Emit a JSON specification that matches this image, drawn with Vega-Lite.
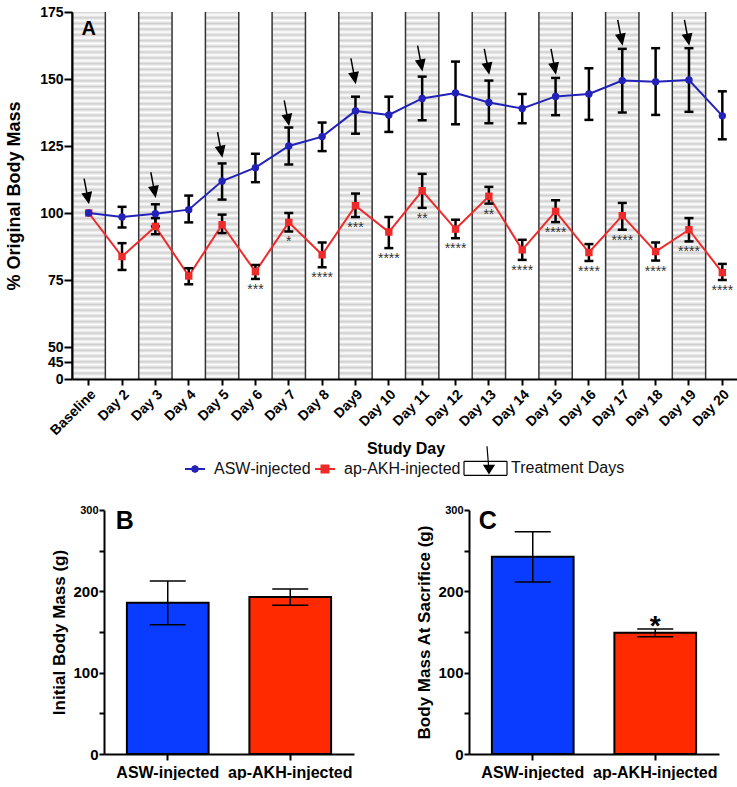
{
  "$schema": "https://vega.github.io/schema/vega-lite/v6.json",
  "padding": {"left": 5, "top": 5, "right": 0, "bottom": 0},
  "background": "white",
  "config": {
    "font": "Liberation Sans",
    "view": {"stroke": null},
    "axis": {"domainColor": "#000000", "domainWidth": 2, "tickColor": "#000000", "tickWidth": 2, "labelColor": "#000000", "titleColor": "#000000", "labelFontWeight": "bold", "titleFontWeight": "bold", "grid": false, "labelFont": "Liberation Sans", "titleFont": "Liberation Sans"}
  },
  "datasets": {
    "mass": [
      {"day": "Baseline", "series": "ap-AKH-injected", "mean": 100, "lo": 100, "hi": 100},
      {"day": "Day 2", "series": "ap-AKH-injected", "mean": 83.75, "lo": 78.75, "hi": 88.75},
      {"day": "Day 3", "series": "ap-AKH-injected", "mean": 95, "lo": 92.1, "hi": 98.1},
      {"day": "Day 4", "series": "ap-AKH-injected", "mean": 76.5, "lo": 73.4, "hi": 79.4},
      {"day": "Day 5", "series": "ap-AKH-injected", "mean": 95.6, "lo": 92.5, "hi": 99.4},
      {"day": "Day 6", "series": "ap-AKH-injected", "mean": 78.1, "lo": 75.4, "hi": 80.6, "sig": "***"},
      {"day": "Day 7", "series": "ap-AKH-injected", "mean": 96.5, "lo": 93.1, "hi": 100, "sig": "*"},
      {"day": "Day 8", "series": "ap-AKH-injected", "mean": 84.4, "lo": 79.75, "hi": 89, "sig": "****"},
      {"day": "Day9", "series": "ap-AKH-injected", "mean": 102.75, "lo": 98.5, "hi": 107.25, "sig": "***"},
      {"day": "Day 10", "series": "ap-AKH-injected", "mean": 92.9, "lo": 86.9, "hi": 98.5, "sig": "****"},
      {"day": "Day 11", "series": "ap-AKH-injected", "mean": 108.3, "lo": 101.9, "hi": 114.6, "sig": "**"},
      {"day": "Day 12", "series": "ap-AKH-injected", "mean": 94, "lo": 90.6, "hi": 97.5, "sig": "****"},
      {"day": "Day 13", "series": "ap-AKH-injected", "mean": 106.25, "lo": 103.5, "hi": 109.75, "sig": "**"},
      {"day": "Day 14", "series": "ap-AKH-injected", "mean": 86.25, "lo": 82.5, "hi": 90, "sig": "****"},
      {"day": "Day 15", "series": "ap-AKH-injected", "mean": 100.6, "lo": 96.6, "hi": 104.75, "sig": "****"},
      {"day": "Day 16", "series": "ap-AKH-injected", "mean": 85.25, "lo": 82.1, "hi": 88.4, "sig": "****"},
      {"day": "Day 17", "series": "ap-AKH-injected", "mean": 99, "lo": 93.75, "hi": 103.75, "sig": "****"},
      {"day": "Day 18", "series": "ap-AKH-injected", "mean": 85.6, "lo": 82.25, "hi": 89, "sig": "****"},
      {"day": "Day 19", "series": "ap-AKH-injected", "mean": 93.75, "lo": 89.4, "hi": 98.1, "sig": "****"},
      {"day": "Day 20", "series": "ap-AKH-injected", "mean": 77.75, "lo": 75, "hi": 81, "sig": "****"},
      {"day": "Baseline", "series": "ASW-injected", "mean": 100, "lo": 100, "hi": 100},
      {"day": "Day 2", "series": "ASW-injected", "mean": 98.5, "lo": 94.6, "hi": 102.3},
      {"day": "Day 3", "series": "ASW-injected", "mean": 99.75, "lo": 95, "hi": 103.25},
      {"day": "Day 4", "series": "ASW-injected", "mean": 101.25, "lo": 96.5, "hi": 106.5},
      {"day": "Day 5", "series": "ASW-injected", "mean": 111.9, "lo": 105, "hi": 118.5},
      {"day": "Day 6", "series": "ASW-injected", "mean": 116.9, "lo": 111.5, "hi": 122.1},
      {"day": "Day 7", "series": "ASW-injected", "mean": 125, "lo": 118.1, "hi": 131.9},
      {"day": "Day 8", "series": "ASW-injected", "mean": 128.5, "lo": 123.1, "hi": 133.75},
      {"day": "Day9", "series": "ASW-injected", "mean": 138.1, "lo": 129.6, "hi": 143.4},
      {"day": "Day 10", "series": "ASW-injected", "mean": 136.6, "lo": 130.25, "hi": 143.4},
      {"day": "Day 11", "series": "ASW-injected", "mean": 142.75, "lo": 134.6, "hi": 150.9},
      {"day": "Day 12", "series": "ASW-injected", "mean": 144.75, "lo": 133.1, "hi": 156.5},
      {"day": "Day 13", "series": "ASW-injected", "mean": 141.25, "lo": 133.5, "hi": 149.4},
      {"day": "Day 14", "series": "ASW-injected", "mean": 139, "lo": 133.5, "hi": 144.4},
      {"day": "Day 15", "series": "ASW-injected", "mean": 143.5, "lo": 136.5, "hi": 150.4},
      {"day": "Day 16", "series": "ASW-injected", "mean": 144.4, "lo": 134.75, "hi": 154},
      {"day": "Day 17", "series": "ASW-injected", "mean": 149.4, "lo": 137.5, "hi": 161.25},
      {"day": "Day 18", "series": "ASW-injected", "mean": 149, "lo": 136.6, "hi": 161.5},
      {"day": "Day 19", "series": "ASW-injected", "mean": 149.6, "lo": 137.75, "hi": 161.5},
      {"day": "Day 20", "series": "ASW-injected", "mean": 136.25, "lo": 127.5, "hi": 145.4}
    ],
    "treat": [
      {"day": "Baseline", "tip": 103.9},
      {"day": "Day 3", "tip": 106.25},
      {"day": "Day 5", "tip": 121.25},
      {"day": "Day 7", "tip": 133.1},
      {"day": "Day9", "tip": 148.75},
      {"day": "Day 11", "tip": 153.5},
      {"day": "Day 13", "tip": 152.25},
      {"day": "Day 15", "tip": 152.25},
      {"day": "Day 17", "tip": 163.1},
      {"day": "Day 19", "tip": 163.1}
    ]
  },
  "spacing": 26,
  "resolve": {"scale": {"x": "independent", "y": "independent", "color": "independent", "shape": "independent"}, "legend": {"color": "independent", "shape": "independent"}},
  "vconcat": [
    {
      "width": 667,
      "height": 367,
      "encoding": {
        "x": {
          "field": "day", "type": "nominal",
          "scale": {"type": "band", "domain": ["Baseline", "Day 2", "Day 3", "Day 4", "Day 5", "Day 6", "Day 7", "Day 8", "Day9", "Day 10", "Day 11", "Day 12", "Day 13", "Day 14", "Day 15", "Day 16", "Day 17", "Day 18", "Day 19", "Day 20"], "paddingInner": 0, "paddingOuter": 0},
          "axis": {"title": "Study Day", "labelAngle": -45, "labelFontSize": 14, "titleFontSize": 16, "tickSize": 6, "labelPadding": 2, "titlePadding": 3, "labelOverlap": false}
        }
      },
      "layer": [
        {
          "data": {"name": "treat"},
          "mark": {"type": "rect", "fill": {"gradient": "linear", "x1": 0, "y1": 0, "x2": 0, "y2": 1, "stops": [
            {"offset": 0, "color": "#cfcfcf"}, {"offset": 0.0078125, "color": "#ffffff"},
            {"offset": 0.015625, "color": "#cfcfcf"}, {"offset": 0.0234375, "color": "#ffffff"},
            {"offset": 0.03125, "color": "#cfcfcf"}, {"offset": 0.0390625, "color": "#ffffff"},
            {"offset": 0.046875, "color": "#cfcfcf"}, {"offset": 0.0546875, "color": "#ffffff"},
            {"offset": 0.0625, "color": "#cfcfcf"}, {"offset": 0.0703125, "color": "#ffffff"},
            {"offset": 0.078125, "color": "#cfcfcf"}, {"offset": 0.0859375, "color": "#ffffff"},
            {"offset": 0.09375, "color": "#cfcfcf"}, {"offset": 0.1015625, "color": "#ffffff"},
            {"offset": 0.109375, "color": "#cfcfcf"}, {"offset": 0.1171875, "color": "#ffffff"},
            {"offset": 0.125, "color": "#cfcfcf"}, {"offset": 0.1328125, "color": "#ffffff"},
            {"offset": 0.140625, "color": "#cfcfcf"}, {"offset": 0.1484375, "color": "#ffffff"},
            {"offset": 0.15625, "color": "#cfcfcf"}, {"offset": 0.1640625, "color": "#ffffff"},
            {"offset": 0.171875, "color": "#cfcfcf"}, {"offset": 0.1796875, "color": "#ffffff"},
            {"offset": 0.1875, "color": "#cfcfcf"}, {"offset": 0.1953125, "color": "#ffffff"},
            {"offset": 0.203125, "color": "#cfcfcf"}, {"offset": 0.2109375, "color": "#ffffff"},
            {"offset": 0.21875, "color": "#cfcfcf"}, {"offset": 0.2265625, "color": "#ffffff"},
            {"offset": 0.234375, "color": "#cfcfcf"}, {"offset": 0.2421875, "color": "#ffffff"},
            {"offset": 0.25, "color": "#cfcfcf"}, {"offset": 0.2578125, "color": "#ffffff"},
            {"offset": 0.265625, "color": "#cfcfcf"}, {"offset": 0.2734375, "color": "#ffffff"},
            {"offset": 0.28125, "color": "#cfcfcf"}, {"offset": 0.2890625, "color": "#ffffff"},
            {"offset": 0.296875, "color": "#cfcfcf"}, {"offset": 0.3046875, "color": "#ffffff"},
            {"offset": 0.3125, "color": "#cfcfcf"}, {"offset": 0.3203125, "color": "#ffffff"},
            {"offset": 0.328125, "color": "#cfcfcf"}, {"offset": 0.3359375, "color": "#ffffff"},
            {"offset": 0.34375, "color": "#cfcfcf"}, {"offset": 0.3515625, "color": "#ffffff"},
            {"offset": 0.359375, "color": "#cfcfcf"}, {"offset": 0.3671875, "color": "#ffffff"},
            {"offset": 0.375, "color": "#cfcfcf"}, {"offset": 0.3828125, "color": "#ffffff"},
            {"offset": 0.390625, "color": "#cfcfcf"}, {"offset": 0.3984375, "color": "#ffffff"},
            {"offset": 0.40625, "color": "#cfcfcf"}, {"offset": 0.4140625, "color": "#ffffff"},
            {"offset": 0.421875, "color": "#cfcfcf"}, {"offset": 0.4296875, "color": "#ffffff"},
            {"offset": 0.4375, "color": "#cfcfcf"}, {"offset": 0.4453125, "color": "#ffffff"},
            {"offset": 0.453125, "color": "#cfcfcf"}, {"offset": 0.4609375, "color": "#ffffff"},
            {"offset": 0.46875, "color": "#cfcfcf"}, {"offset": 0.4765625, "color": "#ffffff"},
            {"offset": 0.484375, "color": "#cfcfcf"}, {"offset": 0.4921875, "color": "#ffffff"},
            {"offset": 0.5, "color": "#cfcfcf"}, {"offset": 0.5078125, "color": "#ffffff"},
            {"offset": 0.515625, "color": "#cfcfcf"}, {"offset": 0.5234375, "color": "#ffffff"},
            {"offset": 0.53125, "color": "#cfcfcf"}, {"offset": 0.5390625, "color": "#ffffff"},
            {"offset": 0.546875, "color": "#cfcfcf"}, {"offset": 0.5546875, "color": "#ffffff"},
            {"offset": 0.5625, "color": "#cfcfcf"}, {"offset": 0.5703125, "color": "#ffffff"},
            {"offset": 0.578125, "color": "#cfcfcf"}, {"offset": 0.5859375, "color": "#ffffff"},
            {"offset": 0.59375, "color": "#cfcfcf"}, {"offset": 0.6015625, "color": "#ffffff"},
            {"offset": 0.609375, "color": "#cfcfcf"}, {"offset": 0.6171875, "color": "#ffffff"},
            {"offset": 0.625, "color": "#cfcfcf"}, {"offset": 0.6328125, "color": "#ffffff"},
            {"offset": 0.640625, "color": "#cfcfcf"}, {"offset": 0.6484375, "color": "#ffffff"},
            {"offset": 0.65625, "color": "#cfcfcf"}, {"offset": 0.6640625, "color": "#ffffff"},
            {"offset": 0.671875, "color": "#cfcfcf"}, {"offset": 0.6796875, "color": "#ffffff"},
            {"offset": 0.6875, "color": "#cfcfcf"}, {"offset": 0.6953125, "color": "#ffffff"},
            {"offset": 0.703125, "color": "#cfcfcf"}, {"offset": 0.7109375, "color": "#ffffff"},
            {"offset": 0.71875, "color": "#cfcfcf"}, {"offset": 0.7265625, "color": "#ffffff"},
            {"offset": 0.734375, "color": "#cfcfcf"}, {"offset": 0.7421875, "color": "#ffffff"},
            {"offset": 0.75, "color": "#cfcfcf"}, {"offset": 0.7578125, "color": "#ffffff"},
            {"offset": 0.765625, "color": "#cfcfcf"}, {"offset": 0.7734375, "color": "#ffffff"},
            {"offset": 0.78125, "color": "#cfcfcf"}, {"offset": 0.7890625, "color": "#ffffff"},
            {"offset": 0.796875, "color": "#cfcfcf"}, {"offset": 0.8046875, "color": "#ffffff"},
            {"offset": 0.8125, "color": "#cfcfcf"}, {"offset": 0.8203125, "color": "#ffffff"},
            {"offset": 0.828125, "color": "#cfcfcf"}, {"offset": 0.8359375, "color": "#ffffff"},
            {"offset": 0.84375, "color": "#cfcfcf"}, {"offset": 0.8515625, "color": "#ffffff"},
            {"offset": 0.859375, "color": "#cfcfcf"}, {"offset": 0.8671875, "color": "#ffffff"},
            {"offset": 0.875, "color": "#cfcfcf"}, {"offset": 0.8828125, "color": "#ffffff"},
            {"offset": 0.890625, "color": "#cfcfcf"}, {"offset": 0.8984375, "color": "#ffffff"},
            {"offset": 0.90625, "color": "#cfcfcf"}, {"offset": 0.9140625, "color": "#ffffff"},
            {"offset": 0.921875, "color": "#cfcfcf"}, {"offset": 0.9296875, "color": "#ffffff"},
            {"offset": 0.9375, "color": "#cfcfcf"}, {"offset": 0.9453125, "color": "#ffffff"},
            {"offset": 0.953125, "color": "#cfcfcf"}, {"offset": 0.9609375, "color": "#ffffff"},
            {"offset": 0.96875, "color": "#cfcfcf"}, {"offset": 0.9765625, "color": "#ffffff"},
            {"offset": 0.984375, "color": "#cfcfcf"}, {"offset": 0.9921875, "color": "#ffffff"},
            {"offset": 1, "color": "#cfcfcf"}
          ]}},
          "encoding": {
            "y": {"datum": 0, "type": "quantitative",
              "scale": {"domain": [0, 45, 50, 175], "range": [367, 350, 335, 0], "nice": false, "zero": false},
              "axis": {"title": "% Original Body Mass", "values": [0, 45, 50, 75, 100, 125, 150, 175], "labelFontSize": 14, "titleFontSize": 18, "tickSize": 8, "labelPadding": 1, "titlePadding": 16, "zindex": 1}},
            "y2": {"datum": 175}
          }
        },
        {
          "data": {"name": "treat"},
          "mark": {"type": "rule", "color": "#333333", "strokeWidth": 1.5},
          "encoding": {
            "x": {"field": "day", "type": "nominal", "bandPosition": 0},
            "y": {"datum": 0, "type": "quantitative"},
            "y2": {"datum": 175}
          }
        },
        {
          "data": {"name": "treat"},
          "mark": {"type": "rule", "color": "#333333", "strokeWidth": 1.5},
          "encoding": {
            "x": {"field": "day", "type": "nominal", "bandPosition": 1},
            "y": {"datum": 0, "type": "quantitative"},
            "y2": {"datum": 175}
          }
        },
        {
          "data": {"name": "mass"},
          "mark": {"type": "line", "strokeWidth": 2},
          "encoding": {
            "y": {"field": "mean", "type": "quantitative"},
            "color": {
              "field": "series", "type": "nominal",
              "scale": {"domain": ["ASW-injected", "ap-AKH-injected", "Treatment Days"], "range": ["#2222b8", "#ee2b2b", "#000000"]},
              "legend": {
                "title": null, "orient": "none", "legendX": 115, "legendY": 448, "direction": "horizontal",
                "labelFont": "Liberation Sans", "labelFontSize": 16, "labelColor": "#111111",
                "symbolSize": 400, "labelOffset": 11, "columnPadding": 0,
                "encode": {
                  "symbols": {"update": {
                    "shape": {"signal": "datum.value === 'ASW-injected' ? 'M-1,0L1,0M-0.3,0L-0.21,-0.21L0,-0.3L0.21,-0.21L0.3,0L0.21,0.21L0,0.3L-0.21,0.21Z' : datum.value === 'ap-AKH-injected' ? 'M-1,0L1,0M-0.35,-0.35L0.35,-0.35L0.35,0.35L-0.35,0.35Z' : 'M-1,-0.7L3.3,-0.7M3.3,-0.7L3.3,0.7M3.3,0.7L-1,0.7M-1,0.7L-1,-0.7M1.3,-2.2L1.45,-0.3M1,-0.3L2,-0.3L1.5,0.5Z'"},
                    "strokeWidth": {"signal": "datum.value === 'Treatment Days' ? 1.2 : 2"},
                    "opacity": {"value": 1},
                    "fillOpacity": {"value": 1}
                  }},
                  "labels": {"update": {"dx": {"signal": "datum.value === 'Treatment Days' ? 18 : 0"}}}
                }
              }
            }
          }
        },
        {
          "data": {"name": "mass"},
          "mark": {"type": "rule", "color": "#000000", "strokeWidth": 2.5},
          "encoding": {
            "y": {"field": "lo", "type": "quantitative"},
            "y2": {"field": "hi"}
          }
        },
        {
          "data": {"name": "mass"},
          "transform": [{"filter": "datum.hi > datum.lo"}],
          "mark": {"type": "tick", "color": "#000000", "thickness": 2.5, "size": 9, "opacity": 1},
          "encoding": {"y": {"field": "hi", "type": "quantitative"}}
        },
        {
          "data": {"name": "mass"},
          "transform": [{"filter": "datum.hi > datum.lo"}],
          "mark": {"type": "tick", "color": "#000000", "thickness": 2.5, "size": 9, "opacity": 1},
          "encoding": {"y": {"field": "lo", "type": "quantitative"}}
        },
        {
          "data": {"name": "mass"},
          "mark": {"type": "point", "filled": true, "opacity": 1, "size": 55},
          "encoding": {
            "y": {"field": "mean", "type": "quantitative"},
            "color": {"field": "series", "type": "nominal"},
            "shape": {"field": "series", "type": "nominal", "scale": {"domain": ["ASW-injected", "ap-AKH-injected"], "range": ["circle", "square"]}, "legend": null}
          }
        },
        {
          "data": {"name": "mass"},
          "transform": [{"filter": "datum.sig"}],
          "mark": {"type": "text", "fontSize": 14, "color": "#333333", "baseline": "alphabetic", "align": "center", "dy": 15},
          "encoding": {
            "y": {"field": "lo", "type": "quantitative"},
            "text": {"field": "sig"}
          }
        },
        {
          "data": {"name": "treat"},
          "mark": {"type": "point", "shape": "M-0.38,-2L-0.15,-0.79M0,0L0.204,-0.853L-0.504,-0.719Z", "size": 576, "filled": true, "fill": "#000000", "stroke": "#000000", "strokeWidth": 1.5, "opacity": 1},
          "encoding": {
            "y": {"field": "tip", "type": "quantitative"}
          }
        },
        {
          "data": {"values": [{}]},
          "mark": {"type": "text", "text": "A", "fontSize": 20, "fontWeight": "bold", "align": "center", "baseline": "top", "dy": 7, "color": "#000000"},
          "encoding": {
            "x": {"datum": "Baseline"},
            "y": {"datum": 175, "type": "quantitative"}
          }
        }
      ]
    },
    {
      "spacing": 61,
      "resolve": {"scale": {"x": "independent", "y": "independent"}},
      "hconcat": [
        {
          "width": 282,
          "height": 244,
          "data": {"values": [
            {"g": "ASW-injected", "mean": 186, "lo": 159, "hi": 212.7},
            {"g": "ap-AKH-injected", "mean": 193, "lo": 183, "hi": 203}
          ]},
          "encoding": {
            "x": {"field": "g", "type": "nominal", "sort": null,
              "scale": {"range": [32, 282], "paddingInner": 0.333, "paddingOuter": 0.187},
              "axis": {"title": null, "labelAngle": 0, "labelFontSize": 16, "tickSize": 6, "labelPadding": 4}}
          },
          "layer": [
            {
              "mark": {"type": "bar", "stroke": "#000000", "strokeWidth": 2},
              "encoding": {
                "y": {"field": "mean", "type": "quantitative",
                  "scale": {"domain": [0, 300], "nice": false},
                  "axis": {"title": "Initial Body Mass (g)", "offset": -32, "values": [0, 50, 100, 150, 200, 250, 300], "labelExpr": "datum.value % 100 === 0 ? datum.label : ''", "labelFontSize": {"condition": {"test": "datum.value === 300", "value": 11}, "value": 15}, "titleFontSize": 17, "tickSize": 5, "labelPadding": 1, "titlePadding": 4}},
                "color": {"condition": {"test": "datum.g === 'ASW-injected'", "value": "#0a3cff"}, "value": "#ff2a00"}
              }
            },
            {
              "mark": {"type": "rule", "color": "#000000", "strokeWidth": 1.5},
              "encoding": {"y": {"field": "lo", "type": "quantitative"}, "y2": {"field": "hi"}}
            },
            {
              "mark": {"type": "tick", "color": "#000000", "thickness": 1.5, "size": 36, "opacity": 1},
              "encoding": {"y": {"field": "hi", "type": "quantitative"}}
            },
            {
              "mark": {"type": "tick", "color": "#000000", "thickness": 1.5, "size": 36, "opacity": 1},
              "encoding": {"y": {"field": "lo", "type": "quantitative"}}
            },
            {
              "data": {"values": [{}]},
              "mark": {"type": "text", "text": "B", "fontSize": 25, "fontWeight": "bold", "align": "center", "baseline": "top", "dx": -43, "dy": -1, "color": "#000000"},
              "encoding": {"x": {"datum": "ASW-injected"}, "y": {"datum": 300, "type": "quantitative"}}
            }
          ]
        },
        {
          "width": 250,
          "height": 244,
          "data": {"values": [
            {"g": "ASW-injected", "mean": 242.6, "lo": 211.5, "hi": 273.3},
            {"g": "ap-AKH-injected", "mean": 149, "lo": 144.2, "hi": 153.7, "sig": "*"}
          ]},
          "encoding": {
            "x": {"field": "g", "type": "nominal", "sort": null,
              "scale": {"paddingInner": 0.333, "paddingOuter": 0.187},
              "axis": {"title": null, "labelAngle": 0, "labelFontSize": 16, "tickSize": 6, "labelPadding": 4}}
          },
          "layer": [
            {
              "mark": {"type": "bar", "stroke": "#000000", "strokeWidth": 2},
              "encoding": {
                "y": {"field": "mean", "type": "quantitative",
                  "scale": {"domain": [0, 300], "nice": false},
                  "axis": {"title": "Body Mass At Sacrifice (g)", "values": [0, 50, 100, 150, 200, 250, 300], "labelExpr": "datum.value % 100 === 0 ? datum.label : ''", "labelFontSize": {"condition": {"test": "datum.value === 300", "value": 11}, "value": 15}, "titleFontSize": 17, "tickSize": 5, "labelPadding": 1, "titlePadding": 4}},
                "color": {"condition": {"test": "datum.g === 'ASW-injected'", "value": "#0a3cff"}, "value": "#ff2a00"}
              }
            },
            {
              "mark": {"type": "rule", "color": "#000000", "strokeWidth": 1.5},
              "encoding": {"y": {"field": "lo", "type": "quantitative"}, "y2": {"field": "hi"}}
            },
            {
              "mark": {"type": "tick", "color": "#000000", "thickness": 1.5, "size": 36, "opacity": 1},
              "encoding": {"y": {"field": "hi", "type": "quantitative"}}
            },
            {
              "mark": {"type": "tick", "color": "#000000", "thickness": 1.5, "size": 36, "opacity": 1},
              "encoding": {"y": {"field": "lo", "type": "quantitative"}}
            },
            {
              "transform": [{"filter": "datum.sig"}],
              "mark": {"type": "text", "fontSize": 28, "fontWeight": "bold", "align": "center", "baseline": "alphabetic", "dy": 6, "color": "#000000"},
              "encoding": {"y": {"field": "hi", "type": "quantitative"}, "text": {"field": "sig"}}
            },
            {
              "data": {"values": [{}]},
              "mark": {"type": "text", "text": "C", "fontSize": 25, "fontWeight": "bold", "align": "center", "baseline": "top", "dx": -45, "dy": -1, "color": "#000000"},
              "encoding": {"x": {"datum": "ASW-injected"}, "y": {"datum": 300, "type": "quantitative"}}
            }
          ]
        }
      ]
    }
  ]
}
